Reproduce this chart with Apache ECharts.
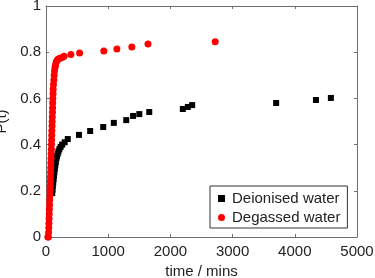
<!DOCTYPE html>
<html>
<head>
<meta charset="utf-8">
<script src="https://cdn.jsdelivr.net/npm/echarts@6/dist/echarts.min.js"></script>
<style>html,body{margin:0;padding:0;background:#fff;}#c{width:375px;height:278px;}</style>
</head>
<body>
<div id="c"></div>
<script>
// Deionised water (black squares)
var deionisedTime = [100,105,110,116,122,128,135,142,150,158,167,177,188,200,215,235,260,300,350,530,710,920,1090,1290,1400,1500,1660,2200,2280,2350,3700,4340,4580];
var deionisedP    = [0.19,0.205,0.22,0.235,0.25,0.265,0.28,0.295,0.31,0.325,0.34,0.35,0.36,0.37,0.38,0.39,0.40,0.41,0.424,0.442,0.459,0.476,0.494,0.506,0.524,0.532,0.541,0.554,0.563,0.571,0.58,0.593,0.602];
// Degassed water (red circles)
var degassedTime = [30,38,42,45,47,50,52,54,57,59,62,64,66,69,71,74,76,78,81,83,86,88,90,92,94,97,99,101,104,106,108,110,113,115,120,126,131,137,145,153,162,172,185,200,225,260,290,400,540,930,1140,1380,1640,2720];
var degassedP    = [0,0,0.02,0.04,0.06,0.08,0.10,0.12,0.14,0.16,0.18,0.20,0.22,0.24,0.26,0.28,0.30,0.32,0.34,0.36,0.38,0.40,0.42,0.44,0.46,0.48,0.50,0.52,0.54,0.56,0.58,0.60,0.62,0.64,0.66,0.68,0.70,0.72,0.735,0.745,0.755,0.762,0.767,0.771,0.774,0.777,0.782,0.79,0.797,0.805,0.814,0.823,0.835,0.845];
var seriesNames = ['Deionised water', 'Degassed water'];
var xTitle = 'time / mins';
var yTitle = 'P(t)';

function pairs(xs, ys){ return xs.map(function(x,i){ return [x, ys[i]]; }); }

var axisColor = '#6e6e6e';
var textColor = '#222';
var fontFamily = 'Liberation Sans, Arial, sans-serif';
function plain(v){ return String(v); }

var chart = echarts.init(document.getElementById('c'));
chart.setOption({
  animation: false,
  backgroundColor: '#fff',
  grid: { left: 46, right: 18, top: 6, bottom: 41, containLabel: false, outerBoundsMode: 'none' },
  xAxis: [
    { type: 'value', min: 0, max: 5000, interval: 1000, position: 'bottom',
      name: xTitle, nameLocation: 'middle', nameGap: 25,
      nameTextStyle: { fontSize: 15, color: textColor, fontFamily: fontFamily },
      axisLine: { show: true, onZero: false, lineStyle: { color: axisColor, width: 1 } },
      axisTick: { show: true, inside: true, length: 3, lineStyle: { color: axisColor } },
      axisLabel: { fontSize: 15, color: textColor, margin: 7, fontFamily: fontFamily, formatter: plain },
      splitLine: { show: false } },
    { type: 'value', min: 0, max: 5000, interval: 1000, position: 'top',
      axisLine: { show: true, onZero: false, lineStyle: { color: axisColor, width: 1 } },
      axisTick: { show: true, inside: true, length: 3, lineStyle: { color: axisColor } },
      axisLabel: { show: false }, splitLine: { show: false } }
  ],
  yAxis: [
    { type: 'value', min: 0, max: 1, interval: 0.2, position: 'left',
      name: yTitle, nameLocation: 'middle', nameGap: 31, nameRotate: 90,
      nameTextStyle: { fontSize: 15, color: textColor, fontFamily: fontFamily },
      axisLine: { show: true, onZero: false, lineStyle: { color: axisColor, width: 1 } },
      axisTick: { show: true, inside: true, length: 3, lineStyle: { color: axisColor } },
      axisLabel: { fontSize: 15, color: textColor, margin: 5, fontFamily: fontFamily, formatter: plain },
      splitLine: { show: false } },
    { type: 'value', min: 0, max: 1, interval: 0.2, position: 'right',
      axisLine: { show: true, onZero: false, lineStyle: { color: axisColor, width: 1 } },
      axisTick: { show: true, inside: true, length: 3, lineStyle: { color: axisColor } },
      axisLabel: { show: false }, splitLine: { show: false } }
  ],
  legend: {
    orient: 'vertical', left: 210, top: 186,
    backgroundColor: '#fff',
    borderColor: '#333', borderWidth: 1, borderRadius: 0,
    padding: [5, 7, 3, 8], itemGap: 4,
    itemWidth: 7, itemHeight: 7,
    textStyle: { fontSize: 15, color: textColor, fontFamily: fontFamily, padding: [0, 0, 0, 2] },
    data: [ { name: seriesNames[0], icon: 'rect' }, { name: seriesNames[1], icon: 'circle' } ]
  },
  series: [
    { name: seriesNames[0], type: 'scatter', symbol: 'rect', symbolSize: 6,
      itemStyle: { color: '#000', opacity: 1 }, data: pairs(deionisedTime, deionisedP), z: 2 },
    { name: seriesNames[1], type: 'scatter', symbol: 'circle', symbolSize: 7,
      itemStyle: { color: '#ff0000', opacity: 1 }, data: pairs(degassedTime, degassedP), z: 3 }
  ]
});
</script>
</body>
</html>
